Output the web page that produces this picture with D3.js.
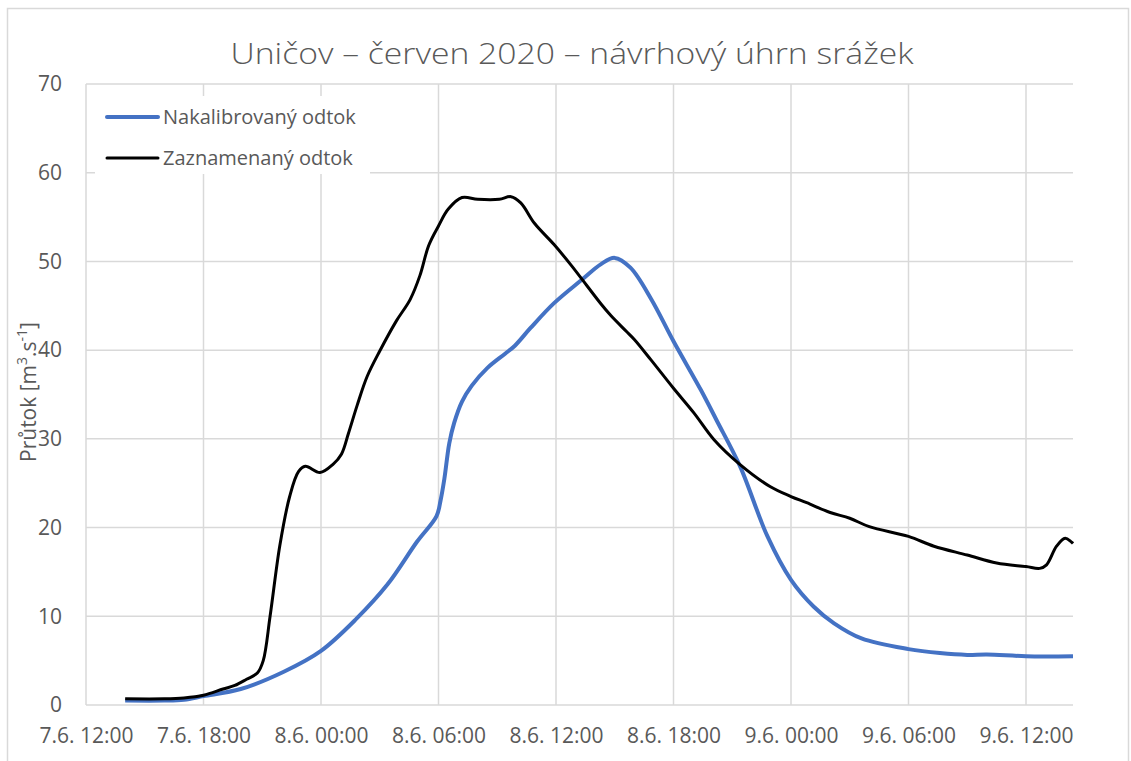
<!DOCTYPE html>
<html>
<head>
<meta charset="utf-8">
<script src="https://cdn.jsdelivr.net/npm/d3@7"></script>
<style>
  body { margin: 0; background: #fff; }
  svg { display: block; }
</style>
</head>
<body>
<svg width="1131" height="761"></svg>
<script>
// Hodiny od 7.6. 12:00 a průtoky [m3/s]
const base = new Date(2020, 5, 7, 12, 0);

const calibHours = [2.0, 4.0, 5.0, 6.0, 7.9, 10.1, 12.0, 13.8, 15.4, 16.9, 17.9, 18.1, 18.3, 18.55, 18.8, 19.2, 19.7, 20.5, 21.4, 21.9, 22.7, 23.9, 25.3, 26.3, 27.0, 27.8, 28.85, 30.0, 31.4, 32.2, 33.4, 34.8, 36.0, 37.15, 38.2, 39.6, 42.0, 43.6, 45.0, 46.0, 48.0, 50.4];
const calibValues = [0.5, 0.5, 0.6, 1.0, 1.8, 3.75, 6.1, 9.7, 13.6, 18.4, 21.3, 23.0, 25.5, 29.5, 31.8, 34.2, 36.0, 38.0, 39.6, 40.5, 42.5, 45.3, 47.9, 49.7, 50.4, 49.3, 45.8, 41.0, 35.5, 32.1, 26.9, 19.0, 14.1, 11.1, 9.2, 7.5, 6.3, 5.85, 5.65, 5.7, 5.5, 5.5];

const recHours = [2.0, 4.0, 5.0, 6.0, 7.0, 7.6, 8.2, 8.75, 9.05, 9.4, 9.9, 10.4, 10.85, 11.2, 11.95, 12.6, 13.05, 13.4, 13.85, 14.35, 15.0, 15.85, 16.55, 17.05, 17.5, 18.0, 18.5, 19.2, 20.0, 21.1, 21.7, 22.2, 22.9, 23.9, 24.8, 25.6, 26.3, 26.8, 27.6, 28.0, 28.85, 30.0, 31.05, 32.07, 33.4, 34.95, 36.0, 36.8, 38.0, 39.0, 40.0, 42.0, 43.3, 45.0, 46.5, 48.0, 48.7, 49.05, 49.56, 50.0, 50.4];
const recValues = [0.7, 0.7, 0.8, 1.1, 1.8, 2.2, 2.9, 3.6, 5.0, 10, 18, 23.5, 26.3, 26.9, 26.2, 27.1, 28.3, 30.6, 33.8, 37, 39.9, 43.3, 45.7, 48.4, 51.8, 54.0, 55.9, 57.2, 57.0, 57.0, 57.3, 56.6, 54.3, 51.9, 49.5, 47.2, 45.2, 43.9, 42.1, 41.2, 38.9, 35.7, 32.9, 29.9, 27.1, 24.6, 23.5, 22.8, 21.7, 21.05, 20.1, 19.0, 17.9, 16.9, 16.0, 15.6, 15.4, 15.8, 17.9, 18.8, 18.2];

const yTicks = [0, 10, 20, 30, 40, 50, 60, 70];
const xTickHours = [0, 6, 12, 18, 24, 30, 36, 42, 48];
const endHour = 50.4;

const seriesNames = ["Nakalibrovaný odtok", "Zaznamenaný odtok"];

const toDate = h => new Date(base.getTime() + h * 3600000);

const calib = calibHours.map((h, i) => ({ t: toDate(h), v: calibValues[i] }));
const rec = recHours.map((h, i) => ({ t: toDate(h), v: recValues[i] }));

const svg = d3.select("svg");
const plotLeft = 86, plotRight = 1073, plotTop = 84, plotBottom = 705;
const textColor = "#595959";
const gridColor = "#d9d9d9";
const font = "'Open Sans', 'Noto Sans', sans-serif";

// Rámeček grafu
svg.append("rect")
    .attr("x", 7.5).attr("y", 8.5)
    .attr("width", 1121).attr("height", 760)
    .attr("fill", "#fff")
    .attr("stroke", gridColor)
    .attr("stroke-width", 1.5);

const x = d3.scaleTime()
    .domain([base, toDate(endHour)])
    .range([plotLeft, plotRight]);

const y = d3.scaleLinear()
    .domain([0, 70])
    .range([plotBottom, plotTop]);

// Mřížka
svg.append("g")
    .attr("stroke", gridColor)
    .attr("stroke-width", 1.5)
    .selectAll("line")
    .data(yTicks)
    .enter()
    .append("line")
    .attr("x1", plotLeft).attr("x2", plotRight)
    .attr("y1", d => y(d)).attr("y2", d => y(d));

svg.append("g")
    .attr("stroke", gridColor)
    .attr("stroke-width", 1.5)
    .selectAll("line")
    .data(xTickHours)
    .enter()
    .append("line")
    .attr("x1", d => x(toDate(d))).attr("x2", d => x(toDate(d)))
    .attr("y1", plotTop).attr("y2", plotBottom);

// Osy
const fmt = d3.timeFormat("%-d.%-m. %H:%M");
const xAxis = svg.append("g")
    .attr("transform", `translate(0,${plotBottom})`)
    .call(d3.axisBottom(x).tickValues(xTickHours.map(toDate)).tickFormat(fmt).tickSize(0).tickPadding(23));
xAxis.select(".domain").remove();
xAxis.selectAll("text")
    .attr("fill", textColor)
    .style("font-family", font)
    .style("font-size", "21px");

const yAxis = svg.append("g")
    .attr("transform", `translate(${plotLeft},0)`)
    .call(d3.axisLeft(y).tickValues(yTicks).tickSize(0).tickPadding(24));
yAxis.select(".domain").remove();
yAxis.selectAll("text")
    .attr("fill", textColor)
    .style("font-family", font)
    .style("font-size", "21px");

// Titulek
svg.append("text")
    .attr("x", 572).attr("y", 64)
    .attr("text-anchor", "middle")
    .attr("fill", textColor)
    .attr("textLength", 683)
    .attr("lengthAdjust", "spacingAndGlyphs")
    .style("font-family", font)
    .style("font-size", "30px")
    .style("font-weight", 300)
    .text("Uničov – červen 2020 – návrhový úhrn srážek");

// Popis osy Y
const yt = svg.append("text")
    .attr("transform", "translate(36,392) rotate(-90)")
    .attr("text-anchor", "middle")
    .attr("fill", textColor)
    .style("font-family", font)
    .style("font-size", "21px");
yt.append("tspan").text("Průtok [m");
yt.append("tspan").attr("baseline-shift", "super").style("font-size", "14px").text("3");
yt.append("tspan").text(".s");
yt.append("tspan").attr("baseline-shift", "super").style("font-size", "14px").text("-1");
yt.append("tspan").text("]");

// Křivky
const line = d3.line()
    .x(d => x(d.t))
    .y(d => y(d.v))
    .curve(d3.curveCatmullRom.alpha(0.5));

svg.append("path")
    .datum(calib)
    .attr("fill", "none")
    .attr("stroke", "#4472C4")
    .attr("stroke-width", 4)
    .attr("stroke-linejoin", "round")
    .attr("d", line);

svg.append("path")
    .datum(rec)
    .attr("fill", "none")
    .attr("stroke", "#000")
    .attr("stroke-width", 3)
    .attr("stroke-linejoin", "round")
    .attr("d", line);

// Legenda
const legend = svg.append("g");
legend.append("rect")
    .attr("x", 95).attr("y", 96)
    .attr("width", 275).attr("height", 78)
    .attr("fill", "#fff");

const legendColors = ["#4472C4", "#000"];
const legendWidths = [4, 3];
seriesNames.forEach((name, i) => {
    const ly = 117 + i * 41;
    legend.append("line")
        .attr("x1", 107).attr("x2", 158)
        .attr("y1", ly).attr("y2", ly)
        .attr("stroke", legendColors[i])
        .attr("stroke-width", legendWidths[i])
        .attr("stroke-linecap", "round");
    legend.append("text")
        .attr("x", 163).attr("y", ly + 7)
        .attr("fill", textColor)
        .style("font-family", font)
        .style("font-size", "20px")
        .text(name);
});
</script>
</body>
</html>
